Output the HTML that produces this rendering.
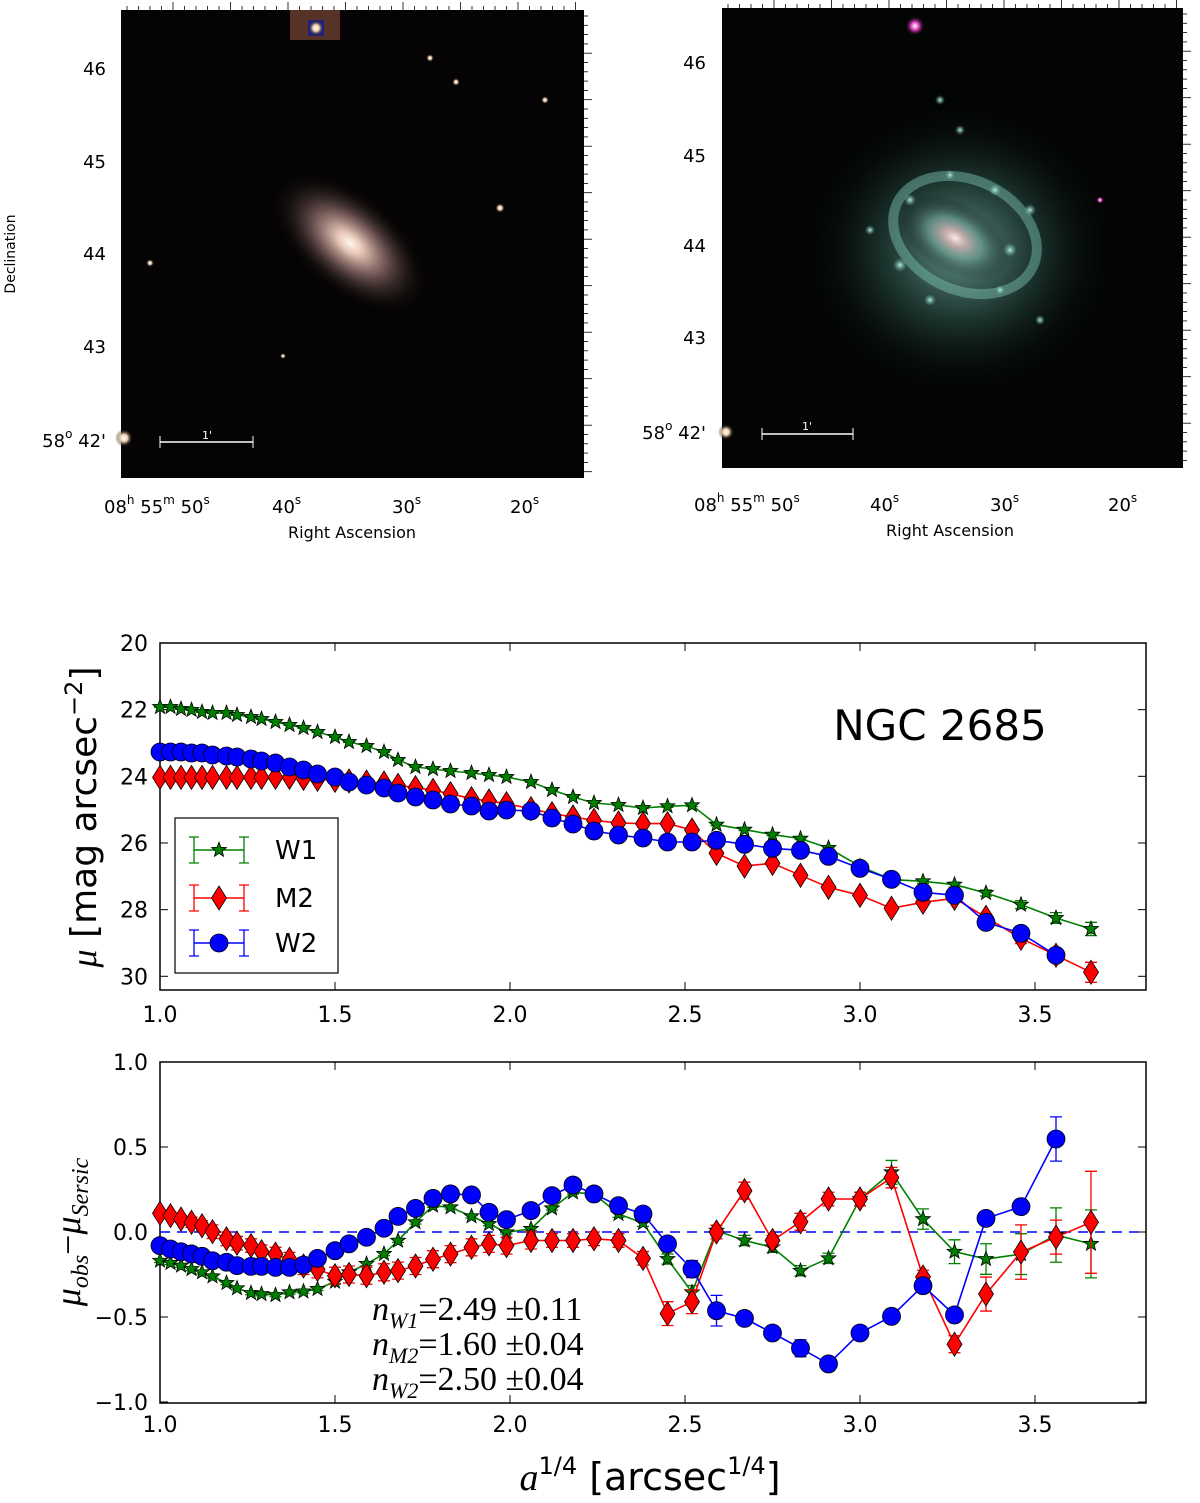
<!DOCTYPE html>
<html><head><meta charset="utf-8"><style>
body{margin:0;background:#fff;}
svg{display:block;font-family:"DejaVu Sans","Liberation Sans",sans-serif;}
</style></head><body>
<svg id="fig" width="1200" height="1503" viewBox="0 0 1200 1503" xmlns="http://www.w3.org/2000/svg">
<defs>
<radialGradient id="gal1" cx="50%" cy="50%" r="50%">
<stop offset="0" stop-color="#fff8f0"/><stop offset="0.15" stop-color="#e8c8b8"/><stop offset="0.45" stop-color="#8a6a68" stop-opacity="0.8"/><stop offset="1" stop-color="#000" stop-opacity="0"/></radialGradient>
<radialGradient id="gal2" cx="50%" cy="50%" r="50%">
<stop offset="0" stop-color="#f8e8e0"/><stop offset="0.2" stop-color="#c0a8a8"/><stop offset="0.5" stop-color="#6a9a90" stop-opacity="0.7"/><stop offset="1" stop-color="#000" stop-opacity="0"/></radialGradient>
<radialGradient id="halo2" cx="50%" cy="50%" r="50%">
<stop offset="0" stop-color="#80c0b0" stop-opacity="0.8"/><stop offset="0.5" stop-color="#305a50" stop-opacity="0.5"/><stop offset="1" stop-color="#000" stop-opacity="0"/></radialGradient>
<radialGradient id="clump" cx="50%" cy="50%" r="50%"><stop offset="0" stop-color="#b0f0e0"/><stop offset="1" stop-color="#60a090" stop-opacity="0"/></radialGradient>
<radialGradient id="starw" cx="50%" cy="50%" r="50%"><stop offset="0" stop-color="#fff"/><stop offset="0.4" stop-color="#f0d0b0"/><stop offset="1" stop-color="#000" stop-opacity="0"/></radialGradient>
<radialGradient id="starm" cx="50%" cy="50%" r="50%"><stop offset="0" stop-color="#fff"/><stop offset="0.4" stop-color="#e040c0"/><stop offset="1" stop-color="#000" stop-opacity="0"/></radialGradient>
</defs>

<g>
<rect x="121" y="10" width="463" height="468" fill="#050303"/>
<ellipse cx="350" cy="243" rx="95" ry="50" transform="rotate(40 350 243)" fill="url(#gal1)"/>
<rect x="290" y="10" width="50" height="30" fill="#6a4030" opacity="0.8"/>
<rect x="308" y="20" width="16" height="16" fill="#202080"/>
<circle cx="316" cy="28" r="8" fill="url(#starw)"/>
<circle cx="430" cy="58" r="4" fill="url(#starw)"/><circle cx="456" cy="82" r="4" fill="url(#starw)"/>
<circle cx="545" cy="100" r="4" fill="url(#starw)"/><circle cx="500" cy="208" r="5" fill="url(#starw)"/>
<circle cx="150" cy="263" r="4" fill="url(#starw)"/><circle cx="124" cy="438" r="9" fill="url(#starw)"/>
<circle cx="283" cy="356" r="3" fill="url(#starw)"/>
<line x1="160" y1="442" x2="253" y2="442" stroke="#fff" stroke-width="1.5"/>
<line x1="160" y1="436" x2="160" y2="448" stroke="#fff"/><line x1="253" y1="436" x2="253" y2="448" stroke="#fff"/>
<text x="207" y="439" fill="#fff" font-size="11" text-anchor="middle">1'</text>
</g>
<g font-size="18" fill="#000" text-anchor="end">
<text x="106" y="75">46</text><text x="106" y="168">45</text><text x="106" y="260">44</text><text x="106" y="353">43</text>
<text x="106" y="447">58<tspan font-size="12" dy="-9">o</tspan><tspan dy="9"> 42'</tspan></text>
</g>
<g font-size="18" fill="#000">
<text x="104" y="513">08<tspan font-size="12" dy="-9">h</tspan><tspan dy="9"> 55</tspan><tspan font-size="12" dy="-9">m</tspan><tspan dy="9"> 50</tspan><tspan font-size="12" dy="-9">s</tspan></text>
<text x="272" y="513">40<tspan font-size="12" dy="-9">s</tspan></text>
<text x="392" y="513">30<tspan font-size="12" dy="-9">s</tspan></text>
<text x="510" y="513">20<tspan font-size="12" dy="-9">s</tspan></text>
</g>
<text x="352" y="538" font-size="16" text-anchor="middle">Right Ascension</text>
<text x="15" y="254" font-size="14" text-anchor="middle" transform="rotate(-90 15 254)">Declination</text>

<g>
<rect x="722" y="8" width="461" height="460" fill="#030504"/>
<ellipse cx="960" cy="250" rx="160" ry="150" fill="url(#halo2)"/>
<ellipse cx="965" cy="235" rx="75" ry="55" transform="rotate(25 965 235)" fill="none" stroke="#80c8b8" stroke-opacity="0.45" stroke-width="10"/>
<ellipse cx="955" cy="238" rx="60" ry="35" transform="rotate(30 955 238)" fill="url(#gal2)"/>
<g fill="url(#clump)">
<circle cx="900" cy="265" r="7"/><circle cx="910" cy="200" r="6"/><circle cx="1010" cy="250" r="7"/><circle cx="995" cy="190" r="6"/>
<circle cx="1030" cy="210" r="6"/><circle cx="950" cy="175" r="5"/><circle cx="930" cy="300" r="6"/><circle cx="1000" cy="290" r="5"/>
<circle cx="940" cy="100" r="5"/><circle cx="960" cy="130" r="5"/><circle cx="870" cy="230" r="5"/><circle cx="1040" cy="320" r="5"/>
</g>
<circle cx="915" cy="26" r="10" fill="url(#starm)"/>
<circle cx="1100" cy="200" r="4" fill="url(#starm)"/><circle cx="726" cy="432" r="8" fill="url(#starw)"/>
<line x1="762" y1="434" x2="853" y2="434" stroke="#fff" stroke-width="1.5"/>
<line x1="762" y1="428" x2="762" y2="440" stroke="#fff"/><line x1="853" y1="428" x2="853" y2="440" stroke="#fff"/>
<text x="807" y="430" fill="#fff" font-size="11" text-anchor="middle">1'</text>
</g>
<g font-size="18" fill="#000" text-anchor="end">
<text x="706" y="69">46</text><text x="706" y="162">45</text><text x="706" y="252">44</text><text x="706" y="344">43</text>
<text x="706" y="439">58<tspan font-size="12" dy="-9">o</tspan><tspan dy="9"> 42'</tspan></text>
</g>
<g font-size="18" fill="#000">
<text x="694" y="511">08<tspan font-size="12" dy="-9">h</tspan><tspan dy="9"> 55</tspan><tspan font-size="12" dy="-9">m</tspan><tspan dy="9"> 50</tspan><tspan font-size="12" dy="-9">s</tspan></text>
<text x="870" y="511">40<tspan font-size="12" dy="-9">s</tspan></text>
<text x="990" y="511">30<tspan font-size="12" dy="-9">s</tspan></text>
<text x="1108" y="511">20<tspan font-size="12" dy="-9">s</tspan></text>
</g>
<text x="950" y="536" font-size="16" text-anchor="middle">Right Ascension</text>

<g id="imgticks"></g>
<g id="top"></g>
<g id="bot"></g>
</svg>
<script>
const xs = [1.0,1.03,1.06,1.09,1.12,1.15,1.19,1.22,1.26,1.29,1.33,1.37,1.41,1.45,1.50,1.54,1.59,1.64,1.68,1.73,1.78,1.83,1.89,1.94,1.99,2.06,2.12,2.18,2.24,2.31,2.38,2.45,2.52,2.59,2.67,2.75,2.83,2.91,3.00,3.09,3.18,3.27,3.36,3.46,3.56,3.66];
const muW1 = [21.92,21.92,21.98,22.01,22.07,22.1,22.1,22.16,22.22,22.28,22.37,22.46,22.55,22.67,22.82,22.97,23.09,23.27,23.51,23.72,23.78,23.84,23.9,23.96,24.02,24.17,24.41,24.62,24.8,24.86,24.95,24.9,24.87,25.45,25.6,25.75,25.87,26.15,26.7,27.1,27.15,27.25,27.5,27.85,28.25,28.58];
const muM2 = [24.03,24.03,24.03,24.03,24.03,24.03,24.03,24.03,24.03,24.03,24.03,24.03,24.06,24.09,24.12,24.14,24.17,24.2,24.27,24.34,24.42,24.52,24.67,24.74,24.82,24.97,25.12,25.22,25.32,25.4,25.42,25.42,25.61,26.31,26.69,26.61,26.97,27.33,27.57,27.96,27.78,27.66,28.23,28.86,29.37,29.88];
const muW2 = [23.27,23.27,23.27,23.3,23.3,23.36,23.39,23.42,23.48,23.54,23.6,23.72,23.81,23.93,24.02,24.17,24.26,24.35,24.5,24.62,24.71,24.83,24.89,25.04,25.01,25.04,25.25,25.43,25.64,25.76,25.85,25.97,25.97,25.92,26.04,26.16,26.22,26.4,26.76,27.09,27.48,27.57,28.38,28.71,29.37];
const resW1 = [-0.169,-0.182,-0.198,-0.218,-0.237,-0.261,-0.3,-0.331,-0.359,-0.365,-0.371,-0.355,-0.35,-0.335,-0.292,-0.237,-0.188,-0.129,-0.051,0.057,0.155,0.145,0.092,0.047,-0.002,0.018,0.139,0.233,0.224,0.106,0.053,-0.159,-0.355,0.008,-0.05,-0.09,-0.228,-0.155,0.194,0.351,0.076,-0.116,-0.159,-0.13,-0.018,-0.07];
const resM2 = [0.11,0.096,0.076,0.057,0.037,0.002,-0.04,-0.066,-0.08,-0.116,-0.13,-0.16,-0.2,-0.22,-0.257,-0.25,-0.257,-0.237,-0.227,-0.2,-0.16,-0.13,-0.09,-0.07,-0.08,-0.05,-0.05,-0.05,-0.04,-0.05,-0.155,-0.48,-0.41,0.0,0.243,-0.05,0.06,0.194,0.194,0.32,-0.265,-0.66,-0.365,-0.118,-0.03,0.057];
const resW2 = [-0.08,-0.1,-0.116,-0.129,-0.143,-0.169,-0.178,-0.198,-0.202,-0.202,-0.208,-0.208,-0.194,-0.155,-0.11,-0.07,-0.031,0.022,0.092,0.139,0.198,0.224,0.218,0.116,0.073,0.126,0.214,0.276,0.224,0.155,0.106,-0.07,-0.218,-0.463,-0.508,-0.594,-0.684,-0.776,-0.594,-0.496,-0.316,-0.488,0.08,0.149,0.547];
const errW1 = [0.01,0.01,0.01,0.01,0.01,0.01,0.01,0.01,0.01,0.01,0.01,0.01,0.01,0.01,0.01,0.01,0.01,0.01,0.01,0.01,0.01,0.01,0.01,0.01,0.01,0.01,0.01,0.01,0.01,0.02,0.02,0.03,0.04,0.03,0.03,0.03,0.03,0.03,0.04,0.07,0.06,0.07,0.09,0.12,0.16,0.2];
const errM2 = [0.02,0.02,0.02,0.03,0.03,0.04,0.04,0.04,0.04,0.04,0.04,0.04,0.05,0.05,0.05,0.05,0.05,0.05,0.05,0.05,0.05,0.05,0.05,0.05,0.05,0.05,0.04,0.04,0.04,0.04,0.04,0.07,0.07,0.04,0.05,0.03,0.05,0.04,0.04,0.06,0.04,0.05,0.1,0.16,0.1,0.3];
const errW2 = [0.01,0.01,0.01,0.01,0.01,0.01,0.01,0.01,0.01,0.01,0.01,0.01,0.01,0.01,0.01,0.01,0.01,0.01,0.01,0.01,0.01,0.01,0.01,0.01,0.03,0.01,0.01,0.01,0.01,0.01,0.01,0.04,0.05,0.09,0.04,0.04,0.05,0.04,0.04,0.04,0.02,0.03,0.04,0.04,0.13];
const xTicks = [1.0,1.5,2.0,2.5,3.0,3.5];
const topTicks = [20,22,24,26,28,30];
const botTicks = [1.0,0.5,0.0,-0.5,-1.0];

const NS='http://www.w3.org/2000/svg';
function mk(parent, tag, attrs){const e=document.createElementNS(NS,tag);for(const k in attrs)e.setAttribute(k,attrs[k]);parent.appendChild(e);return e;}
const X = v => 160 + (v-1)*350;
const Ytop = v => 643 + (v-20)*33.33;
const Ybot = v => 1232 - v*170;
const colors = {W1:'#008000', M2:'#ff0000', W2:'#0000ff'};

function marker(g, kind, cx, cy){
  let e;
  if(kind==='W1'){
    let pts=[];for(let i=0;i<10;i++){const r=i%2?3.3:7.8;const a=-Math.PI/2+i*Math.PI/5;pts.push((cx+r*Math.cos(a)).toFixed(1)+','+(cy+r*Math.sin(a)).toFixed(1));}
    e=mk(g,'polygon',{points:pts.join(' '),fill:'#008000',stroke:'#000','stroke-width':0.8});
  } else if(kind==='M2'){
    e=mk(g,'polygon',{points:`${cx},${cy-12} ${cx+7.5},${cy} ${cx},${cy+12} ${cx-7.5},${cy}`,fill:'#ff0000',stroke:'#000','stroke-width':0.8});
  } else {
    e=mk(g,'circle',{cx:cx,cy:cy,r:9,fill:'#0000ff',stroke:'#000','stroke-width':0.8});
  }
  return e;
}

function series(g, kind, vals, errs, Y){
  const c=colors[kind];
  const sg=mk(g,'g',{});
  
  
  let d='';
  vals.forEach((v,i)=>{d+=(i?'L':'M')+X(xs[i]).toFixed(1)+','+Y(v).toFixed(1);});
  for(let i=0;i<vals.length;i++){
    const x=X(xs[i]), y1=Y(vals[i]-errs[i]), y2=Y(vals[i]+errs[i]);
    const eb=mk(sg,'path',{d:`M${x},${y1}L${x},${y2}M${x-6},${y1}L${x+6},${y1}M${x-6},${y2}L${x+6},${y2}`,stroke:c,'stroke-width':1.3,fill:'none'});
    
    
  }
  const ln=mk(sg,'path',{d:d,stroke:c,'stroke-width':1.6,fill:'none'});
  
  
  for(let i=0;i<vals.length;i++){
    const m=marker(sg,kind,X(xs[i]),Y(vals[i]));
    
    
  }
}

function axes(g, top, bottom, yTicks, Y, fmt, xlabY, name){
  const r=mk(g,'rect',{x:160,y:top,width:986,height:bottom-top,fill:'none',stroke:'#000','stroke-width':1.5});
  
  
  xTicks.forEach(t=>{
    const x=X(t);
    mk(g,'line',{x1:x,y1:bottom,x2:x,y2:bottom-8,stroke:'#000'});
    mk(g,'line',{x1:x,y1:top,x2:x,y2:top+8,stroke:'#000'});
    const tx=mk(g,'text',{x:x,y:xlabY,'font-size':22,'text-anchor':'middle'});
    tx.textContent=t.toFixed(1);
    
    
  });
  yTicks.forEach(t=>{
    const y=Y(t);
    mk(g,'line',{x1:160,y1:y,x2:168,y2:y,stroke:'#000'});
    mk(g,'line',{x1:1146,y1:y,x2:1138,y2:y,stroke:'#000'});
    const tx=mk(g,'text',{x:148,y:y+8,'font-size':22,'text-anchor':'end'});
    tx.textContent=fmt(t);
    
    
  });
}

const it=document.getElementById('imgticks');
[[121,10,584,478],[722,8,1183,468]].forEach(b=>{
  for(let x=b[0]+6;x<b[2];x+=11.5){mk(it,'line',{x1:x,y1:b[1],x2:x,y2:b[1]-(Math.round((x-b[0])/11.5)%5===0?8:4),stroke:'#000','stroke-width':0.8});}
  for(let y=b[1]+6;y<b[3];y+=9.3){mk(it,'line',{x1:b[2],y1:y,x2:b[2]+(Math.round((y-b[1])/9.3)%5===0?8:4),y2:y,stroke:'#000','stroke-width':0.8});}
});

const tg=document.getElementById('top');


axes(tg,643,990,topTicks,Ytop,t=>String(t),1022,'profile-panel');
series(tg,'W1',muW1,errW1,Ytop);
series(tg,'M2',muM2,errM2,Ytop);
series(tg,'W2',muW2,errW2,Ytop);
const ttl=mk(tg,'text',{x:940,y:740,'font-size':42,'text-anchor':'middle'});ttl.textContent='NGC 2685';


const yl=mk(tg,'text',{x:0,y:0,'font-size':36,'text-anchor':'middle',transform:'translate(96 817) rotate(-90)'});
yl.innerHTML='<tspan font-family="Liberation Serif" font-style="italic">μ</tspan> [mag arcsec<tspan font-size="24" dy="-14">−2</tspan><tspan dy="14">]</tspan>';


const lg=mk(tg,'g',{});


mk(lg,'rect',{x:175,y:818,width:163,height:155,fill:'#fff',stroke:'#000','stroke-width':1.2});
[['W1',850],['M2',898],['W2',943]].forEach(([k,y])=>{
  const c=colors[k];
  const eg=mk(lg,'g',{});
  
  
  mk(eg,'line',{x1:194,y1:y,x2:244,y2:y,stroke:c,'stroke-width':1.6});
  [194,244].forEach(x=>mk(eg,'path',{d:`M${x},${y-13}L${x},${y+13}M${x-5},${y-13}L${x+5},${y-13}M${x-5},${y+13}L${x+5},${y+13}`,stroke:c,'stroke-width':1.3}));
  marker(eg,k,219,y);
  const t=mk(eg,'text',{x:275,y:y+9,'font-size':26});t.textContent=k;
});

const bg=document.getElementById('bot');


axes(bg,1062,1403,botTicks,Ybot,t=>(t<0?'−':'')+Math.abs(t).toFixed(1),1432,'residual-panel');
const zl=mk(bg,'line',{x1:160,y1:Ybot(0),x2:1146,y2:Ybot(0),stroke:'#0000ff','stroke-width':1.6,'stroke-dasharray':'10,7'});


series(bg,'W1',resW1,errW1,Ybot);
series(bg,'M2',resM2,errM2,Ybot);
series(bg,'W2',resW2,errW2,Ybot);
const ann=mk(bg,'g',{'font-family':'Liberation Serif, serif','font-size':34});


[['W1','2.49','0.11',1320],['M2','1.60','0.04',1355],['W2','2.50','0.04',1390]].forEach(([k,a,b,y])=>{
  const t=mk(ann,'text',{x:372,y:y});
  t.innerHTML=`<tspan font-style="italic">n</tspan><tspan font-size="22" font-style="italic" dy="8">${k}</tspan><tspan dy="-8">=${a} ±${b}</tspan>`;
});
const yl2=mk(bg,'text',{x:0,y:0,'font-size':36,'font-family':'Liberation Serif, serif','font-style':'italic','text-anchor':'middle',transform:'translate(80 1232) rotate(-90)'});
yl2.innerHTML='μ<tspan font-size="24" dy="8">obs</tspan><tspan dy="-8" font-style="normal">−</tspan>μ<tspan font-size="24" dy="8">Sersic</tspan>';


const xl=mk(bg,'text',{x:650,y:1490,'font-size':38,'text-anchor':'middle'});
xl.innerHTML='<tspan font-family="Liberation Serif" font-style="italic">a</tspan><tspan font-size="24" dy="-16">1/4</tspan><tspan dy="16">  [arcsec</tspan><tspan font-size="24" dy="-16">1/4</tspan><tspan dy="16">]</tspan>';


</script>
</body></html>
